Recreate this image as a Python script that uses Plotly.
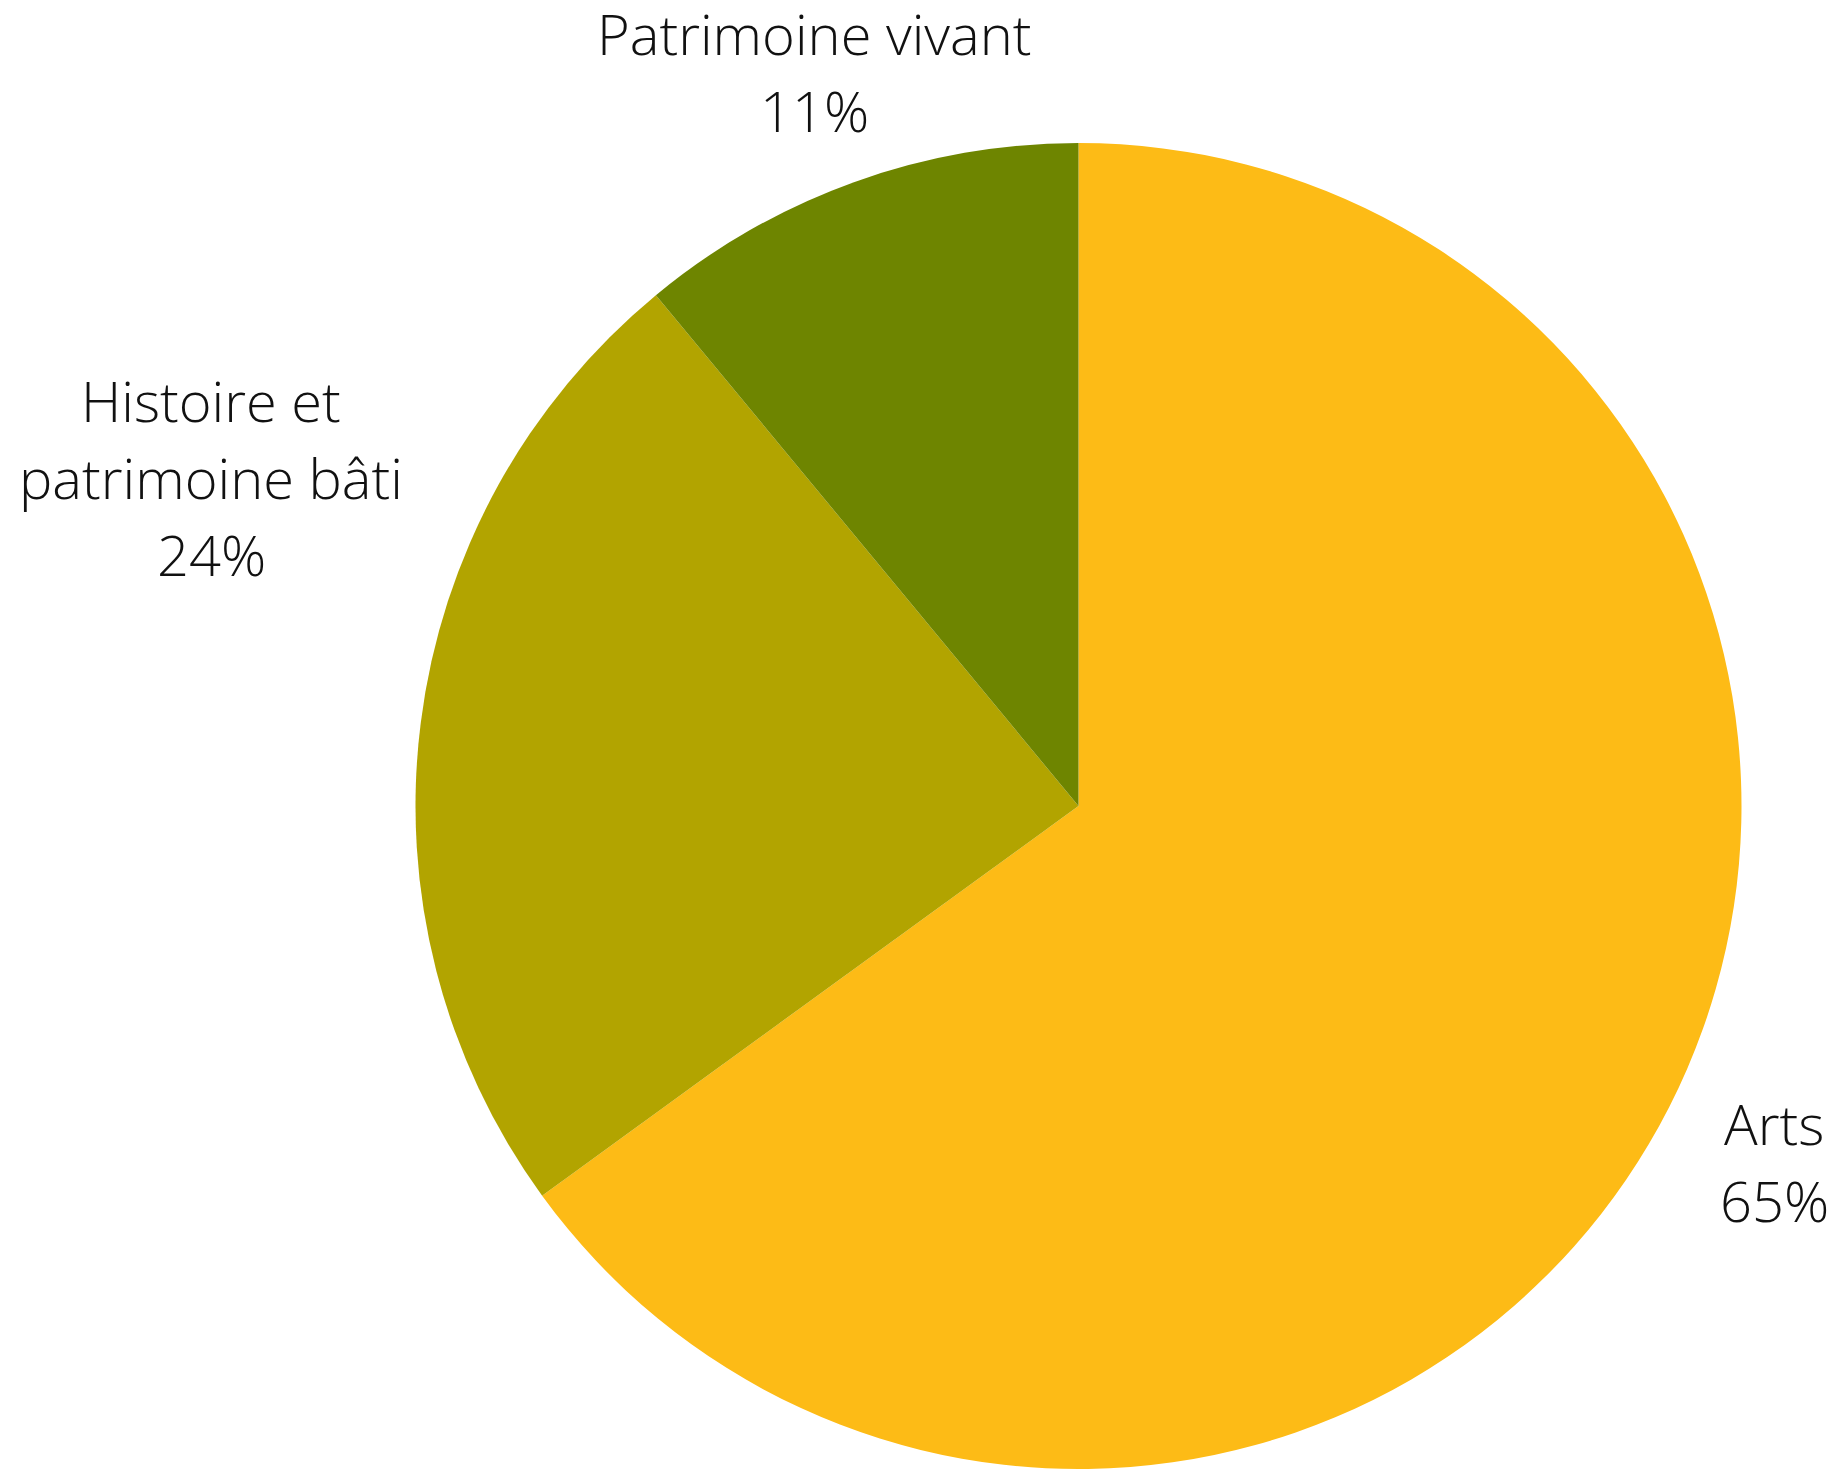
import plotly.graph_objects as go

categories = ["Arts", "Histoire et patrimoine bâti", "Patrimoine vivant"]
values = [65, 24, 11]
colors = ["#FDBB16", "#B2A400", "#6E8500"]
label_lines = [["Arts", "65%"], ["Histoire et", "patrimoine bâti", "24%"], ["Patrimoine vivant", "11%"]]

W, H = 1837, 1470
OFF = 8  # page body margin
cx, cy, r = 1078.5 - OFF, 806 - OFF, 663

fig = go.Figure(go.Pie(
    labels=categories,
    values=values,
    sort=False,
    direction="clockwise",
    rotation=0,
    marker=dict(colors=colors, line=dict(width=0)),
    textinfo="none",
    hoverinfo="label+percent",
    showlegend=False,
    domain=dict(x=[(cx - r) / W, (cx + r) / W], y=[1 - (cy + r) / H, 1 - (cy - r) / H]),
))

# label anchor: (center x px, first baseline px) in page coords
label_pos = [(1774, 1147), (211, 424), (814, 57)]
line_gap = 77
fs = 56
font = dict(family="Open Sans", size=fs, color="#111111", weight=300)
annotations = []
for lines, (lx, by) in zip(label_lines, label_pos):
    for i, t in enumerate(lines):
        b = by + i * line_gap - OFF
        annotations.append(dict(
            text=t, x=(lx - OFF) / W, y=1 - (b - 24) / H, xref="paper", yref="paper",
            xanchor="center", yanchor="middle", showarrow=False, font=font,
        ))

fig.update_layout(
    width=W, height=H,
    margin=dict(l=0, r=0, t=0, b=0),
    paper_bgcolor="white", plot_bgcolor="white",
    annotations=annotations,
)
fig.write_html("out.html")
